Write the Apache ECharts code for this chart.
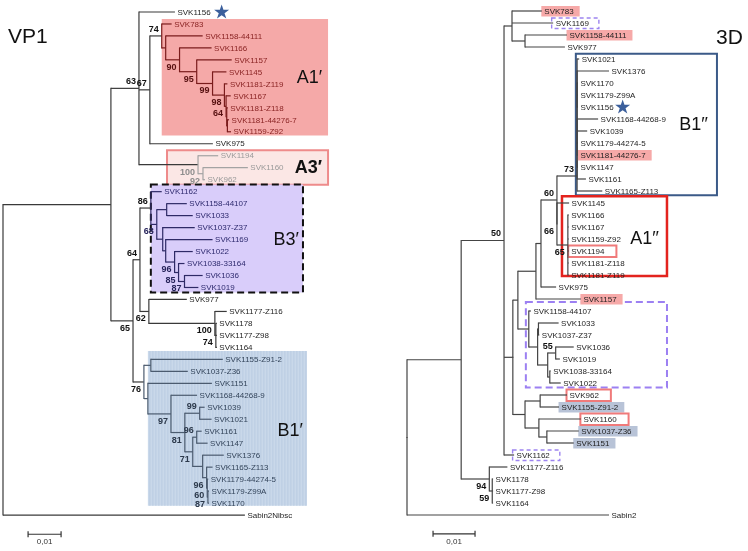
<!DOCTYPE html>
<html><head><meta charset="utf-8">
<script src="https://cdn.jsdelivr.net/npm/echarts@6/dist/echarts.min.js"></script>
<style>html,body{margin:0;padding:0;background:#fff;}#chart{width:748px;height:551px;}</style>
</head><body><div id="chart"></div>
<script>
// ================= DATA =================
// VP1 tree (Newick, branch lengths in substitutions/site, internal labels = bootstrap)
const vp1A1 = "(SVK783:0.0030,(SVK1158-44111:0.0112,(SVK1166:0.0097,(SVK1157:0.0106,(SVK1145:0.0042,(SVK1181-Z119:0.0009,(SVK1167:0.0014,(SVK1181-Z118:0.0003,(SVK1181-44276-7:0.0005,SVK1159-Z92:0.0011):0.0002):0.0002)64:0.0005)98:0.0036)99:0.0048)95:0.0052)90:0.0042):0.0012)74";
const vp1A3 = "(SVK1194:0.0061,(SVK1160:0.0136,SVK962:0.0006)92:0.0015)100";
const vp1B3 = "(SVK1162:0.0033,((SVK1158-44107:0.0061,SVK1033:0.0079):0.0030,(SVK1037-Z37:0.0097,(SVK1169:0.0142,(SVK1022:0.0055,(SVK1038-33164:0.0018,(SVK1036:0.0055,SVK1019:0.0042)87:0.0018)85:0.0012)96:0.0027):0.0009):0.0018)68:0.0018)86";
const vp1Mid = "(SVK977:0.0115,(SVK1177-Z116:0.0036,(SVK1178:0.0003,SVK1177-Z98:0.0003,SVK1164:0.0003)74:0.0003)100:0.0200)62";
const vp1B1 = "((SVK1155-Z91-2:0.0218,SVK1037-Z36:0.0112):0.0021,(SVK1151:0.0194,(SVK1168-44268-9:0.0079,((SVK1039:0.0015,SVK1021:0.0036)99:0.0045,((SVK1161:0.0015,SVK1147:0.0033)96:0.0012,(SVK1376:0.0064,(SVK1165-Z113:0.0018,(SVK1179-44274-5:0.0003,(SVK1179-Z99A:0.0003,SVK1170:0.0003)87:0.0002)60:0.0002)96:0.0012):0.0030)71:0.0024)81:0.0042)97:0.0070):0.0012)76";
const vp1Newick = "(((SVK1156:0.0109,(" + vp1A1 + ":0.0036,SVK975:0.0191)67:0.0033," + vp1A3 + ":0.0179)63:0.0085,((" + vp1B3 + ":0.0033," + vp1Mid + ":0.0027)64:0.0021," + vp1B1 + ":0.0033)65:0.0067):0.0327,Sabin2Nibsc:0.0733);";

// 3D tree
const d3B1 = "((((((SVK1021:0.0005,(SVK1376:0.0076,SVK1170:0.0002,SVK1179-Z99A:0.0002,SVK1156:0.0002,SVK1168-44268-9:0.0050,SVK1039:0.0024,SVK1179-44274-5:0.0002):0):0,SVK1181-44276-7:0.0002):0,SVK1147:0.0002):0,SVK1161:0.0021):0,SVK1165-Z113:0.0060)73";
const d3A1 = "(SVK1145:0.0029,(SVK1166:0.0002,SVK1167:0.0002,SVK1159-Z92:0.0002,SVK1194:0.0002,SVK1181-Z118:0.0002,SVK1181-Z119:0.0002)65:0.0026)66";
const d3B3 = "(SVK1158-44107:0.0005,((SVK1033:0.0048,SVK1037-Z37:0.0002):0.0002,((SVK1036:0.0043,SVK1019:0.0010)55:0.0019,(SVK1038-33164:0.0002,SVK1022:0.0026):0.0005):0.0024):0.0021)";
const d3Lower = "((SVK962:0.0064,SVK1155-Z91-2:0.0045):0.0036,(SVK1160:0.0100,(SVK1037-Z36:0.0076,SVK1151:0.0064):0.0019):0.0033)";
const d3Top = "(SVK783:0.0071,SVK1169:0.0098,(SVK1158-44111:0.0100,SVK977:0.0095):0.0031)";
const d3Mid = "(((((" + d3B1 + ":0.0048," + d3A1 + ":0)60:0.0038,SVK975:0.0036):0.0012,SVK1157:0.0107):0.0043," + d3B3 + ":0.0026):0.0012," + d3Lower + ":0.0029)";
const d3Out = "(SVK1177-Z116:0.0043,(SVK1178:0.0002,SVK1177-Z98:0.0002,SVK1164:0.0002)59:0.0007)94";
const d3Newick = "((((" + d3Top + ":0.0019," + d3Mid + ":0):0.0021,SVK1162:0.0024)50:0.0102," + d3Out + ":0.0067):0.0129,Sabin2:0.0481);";

// clade memberships
const vp1CladeA1 = ['SVK783','SVK1158-44111','SVK1166','SVK1157','SVK1145','SVK1181-Z119','SVK1167','SVK1181-Z118','SVK1181-44276-7','SVK1159-Z92'];
const vp1CladeA3 = ['SVK1194','SVK1160','SVK962'];
const vp1CladeB3 = ['SVK1162','SVK1158-44107','SVK1033','SVK1037-Z37','SVK1169','SVK1022','SVK1038-33164','SVK1036','SVK1019'];
const vp1CladeB1 = ['SVK1155-Z91-2','SVK1037-Z36','SVK1151','SVK1168-44268-9','SVK1039','SVK1021','SVK1161','SVK1147','SVK1376','SVK1165-Z113','SVK1179-44274-5','SVK1179-Z99A','SVK1170'];
const d3CladeB1 = ['SVK1021','SVK1376','SVK1170','SVK1179-Z99A','SVK1156','SVK1168-44268-9','SVK1039','SVK1179-44274-5','SVK1181-44276-7','SVK1147','SVK1161','SVK1165-Z113'];
const d3CladeA1 = ['SVK1145','SVK1166','SVK1167','SVK1159-Z92','SVK1194','SVK1181-Z118','SVK1181-Z119'];
const d3CladeB3 = ['SVK1158-44107','SVK1033','SVK1037-Z37','SVK1036','SVK1019','SVK1038-33164','SVK1022'];
// 3D label highlights (VP1 clade of origin)
const d3PinkLeaves = ['SVK783','SVK1158-44111','SVK1181-44276-7','SVK1157'];
const d3BlueLeaves = ['SVK1155-Z91-2','SVK1037-Z36','SVK1151'];
const d3RedOutlineLeaves = ['SVK1194','SVK962','SVK1160'];
const d3VioletOutlineLeaves = ['SVK1169','SVK1162'];
const starLeaf = 'SVK1156';
const scaleBarLength = 0.01;
const scaleBarLabel = '0,01';

// ================= HELPERS =================
const FONT = '"Liberation Sans", Arial, sans-serif';
const leafFont = '8px ' + FONT;
const bootFont = 'bold 9px ' + FONT;
const STAR = 'M50,2 L61.8,37.6 L99,37.6 L68.9,59.6 L80.4,95 L50,73.2 L19.6,95 L31.1,59.6 L1,37.6 L38.2,37.6 Z';
const mctx = document.createElement('canvas').getContext('2d');
function textWidth(t, f) { mctx.font = f; return mctx.measureText(t).width; }

function parseNewick(s) {
  let i = 0;
  function node() {
    const n = { children: [], name: '', len: 0 };
    if (s[i] === '(') {
      i++;
      n.children.push(node());
      while (s[i] === ',') { i++; n.children.push(node()); }
      i++;
    }
    let t = '';
    while (i < s.length && ',():;'.indexOf(s[i]) < 0) t += s[i++];
    n.name = t;
    if (s[i] === ':') { i++; let v = ''; while (i < s.length && ',();'.indexOf(s[i]) < 0) v += s[i++]; n.len = parseFloat(v) || 0; }
    return n;
  }
  return node();
}
function layoutTree(root) {
  const all = []; let k = 0;
  (function walk(n, px, parent, role) {
    n.x = px + n.len; n.parent = parent; n.role = role;
    all.push(n);
    if (!n.children.length) { n.leaf = true; n.y = k++; n.leafSet = [n.name]; }
    else {
      const m = n.children.length;
      n.children.forEach((c, j) => walk(c, n.x, n, j === m - 1 ? 'last' : 'upper'));
      n.y = (n.children[0].y + n.children[m - 1].y) / 2;
      n.leafSet = n.children.reduce((a, c) => a.concat(c.leafSet), []);
    }
  })(root, 0, null, 'root');
  return all;
}
function cladeIndex(n, clades) {
  for (let c = 0; c < clades.length; c++) {
    if (n.leafSet.every(l => clades[c].leaves.indexOf(l) >= 0)) return c;
  }
  return -1;
}

const vp1Nodes = layoutTree(parseNewick(vp1Newick));
const d3Nodes = layoutTree(parseNewick(d3Newick));

const vp1Clades = [
  { leaves: vp1CladeA1, line: '#7a1c1c', text: '#8a2424', boot: '#561010',
    box: { x0: 0.0481, x1: 0.0985, padTop: 0.42, padBot: 0.32, fill: '#f5a9a8', label: 'A1′', inset: 6 } },
  { leaves: vp1CladeA3, line: '#a3a3a3', text: '#9a9a9a', boot: '#8d8d8d',
    box: { x0: 0.0497, x1: 0.0985, padTop: 0.45, padBot: 0.42, fill: '#fbe7e5', stroke: '#ee8b8b', lw: 2, label: 'A3′', bold: true, inset: 6 } },
  { leaves: vp1CladeB3, line: '#2e2a66', text: '#2e2a6e', boot: '#26235a',
    box: { x0: 0.0448, x1: 0.0909, padTop: 0.6, padBot: 0.42, fill: '#d9cdfa', stroke: '#111111', lw: 2, dash: [7, 4], label: 'B3′', inset: 4 } },
  { leaves: vp1CladeB1, line: '#4b5b6f', text: '#34455b', boot: '#2c394b',
    box: { x0: 0.0439, x1: 0.0921, padTop: 0.7, padBot: 0.22, fill: '#c9d8ea', stripes: '#b9cbe1', label: 'B1′', inset: 4 } }
];
const d3Boxes = [
  { leaves: d3CladeB1, x0: 0.0402, x1: 0.0738, padTop: 0.43, padBot: 0.35, stroke: '#3b5a88', lw: 2, label: 'B1′′', inset: 9 },
  { leaves: d3CladeA1, x0: 0.0369, x1: 0.0619, padTop: 0.56, padBot: 0.08, stroke: '#e3231e', lw: 2.5, label: 'A1′′', inset: 8 },
  { leaves: d3CladeB3, x0: 0.0283, x1: 0.0619, padTop: 0.75, padBot: 0.38, stroke: '#9c80f2', lw: 2, dash: [7, 4] }
];

function treeSeries(nodes, axis, clades, base) {
  return {
    type: 'custom', coordinateSystem: 'cartesian2d', xAxisIndex: axis, yAxisIndex: axis,
    z: 3, silent: true, clip: false,
    data: nodes.map(n => [n.x, n.y]),
    encode: { x: 0, y: 1 },
    renderItem: function (params, api) {
      const n = nodes[params.dataIndex];
      const ci = cladeIndex(n, clades);
      const cl = ci >= 0 ? clades[ci] : null;
      const pci = n.parent ? cladeIndex(n.parent, clades) : -1;
      const p = api.coord([n.x, n.y]);
      const g = [];
      if (n.parent) {
        const q = api.coord([n.parent.x, n.y]);
        g.push({ type: 'line', shape: { x1: q[0], y1: p[1], x2: p[0], y2: p[1] },
          style: { stroke: (cl && pci === ci) ? cl.line : base.line, lineWidth: base.lw } });
      }
      if (!n.leaf) {
        const a = api.coord([n.x, n.children[0].y]);
        const b = api.coord([n.x, n.children[n.children.length - 1].y]);
        g.push({ type: 'line', shape: { x1: a[0], y1: a[1] - 0.5, x2: b[0], y2: b[1] + 0.5 },
          style: { stroke: cl ? cl.line : base.line, lineWidth: base.lw } });
        if (n.name) {
          const inBox = cl && cl.box && (n.x - 0.0012 > cl.box.x0);
          g.push({ type: 'text', x: p[0] - 3, y: p[1] + (n.role === 'last' ? 7.5 : -6.5),
            style: { text: n.name, font: bootFont, fill: inBox ? cl.boot : base.boot,
              textAlign: 'right', textVerticalAlign: 'middle', align: 'right', verticalAlign: 'middle' } });
        }
      } else {
        g.push({ type: 'text', x: p[0] + 2.5, y: p[1] + 0.5,
          style: { text: n.name, font: leafFont, fill: cl ? cl.text : base.text,
            textAlign: 'left', textVerticalAlign: 'middle', align: 'left', verticalAlign: 'middle' } });
        if (n.name === starLeaf) {
          const w = textWidth(n.name, leafFont);
          g.push({ type: 'path', shape: { pathData: STAR, x: p[0] + 2.5 + w + base.starGap, y: p[1] - 7.5, width: 15, height: 14, layout: 'cover' },
            style: { fill: '#3b5f9c', stroke: null } });
        }
      }
      return { type: 'group', children: g };
    }
  };
}

function boxSeries(nodes, axis, boxes) {
  const idx = {}; nodes.forEach(n => { if (n.leaf) idx[n.name] = n.y; });
  return {
    type: 'custom', coordinateSystem: 'cartesian2d', xAxisIndex: axis, yAxisIndex: axis,
    z: 1, silent: true, clip: false,
    data: boxes.map(b => [b.x0, idx[b.leaves[0]]]),
    encode: { x: 0, y: 1 },
    renderItem: function (params, api) {
      const b = boxes[params.dataIndex];
      const i0 = idx[b.leaves[0]] - b.padTop, i1 = idx[b.leaves[b.leaves.length - 1]] + b.padBot;
      const p0 = api.coord([b.x0, i0]), p1 = api.coord([b.x1, i1]);
      const g = [{ type: 'rect', shape: { x: p0[0], y: p0[1], width: p1[0] - p0[0], height: p1[1] - p0[1] },
        style: { fill: b.fill || 'transparent', stroke: b.stroke || null, lineWidth: b.lw || 0, lineDash: b.dash || null } }];
      if (b.stripes) {
        for (let x = p0[0] + 2; x < p1[0] - 1; x += 3) {
          g.push({ type: 'line', shape: { x1: x, y1: p0[1], x2: x, y2: p1[1] }, style: { stroke: b.stripes, lineWidth: 1 } });
        }
      }
      if (b.label) {
        const mean = b.leaves.reduce((s, l) => s + idx[l], 0) / b.leaves.length;
        const m = api.coord([b.x1, mean]);
        g.push({ type: 'text', x: p1[0] - b.inset, y: m[1],
          style: { text: b.label, font: (b.bold ? 'bold ' : '') + '18px ' + FONT, fill: '#111',
            textAlign: 'right', textVerticalAlign: 'middle', align: 'right', verticalAlign: 'middle' } });
      }
      return { type: 'group', children: g };
    }
  };
}

function highlightSeries(nodes, axis, marks) {
  const byName = {}; nodes.forEach(n => { if (n.leaf) byName[n.name] = n; });
  return {
    type: 'custom', coordinateSystem: 'cartesian2d', xAxisIndex: axis, yAxisIndex: axis,
    z: 2, silent: true, clip: false,
    data: marks.map(m => [byName[m.name].x, byName[m.name].y]),
    encode: { x: 0, y: 1 },
    renderItem: function (params, api) {
      const m = marks[params.dataIndex];
      const n = byName[m.name];
      const p = api.coord([n.x, n.y]);
      const s = p[0] + 2.5, w = textWidth(n.name, leafFont);
      let shape, style;
      if (m.kind === 'pink' || m.kind === 'blue') {
        shape = { x: s - 3, y: p[1] - 5, width: w + 9, height: 10.5 };
        style = { fill: m.kind === 'pink' ? '#f6a9a8' : '#b8c3d7', stroke: null };
      } else if (m.kind === 'red') {
        shape = { x: s - 3, y: p[1] - 5.5, width: w + 15, height: 11.5 };
        style = { fill: 'transparent', stroke: '#f07a7a', lineWidth: 2 };
      } else {
        shape = { x: s - 4, y: p[1] - 5, width: w + 14, height: 10.5 };
        style = { fill: 'transparent', stroke: '#9d84f0', lineWidth: 1.4, lineDash: [4, 3] };
      }
      return { type: 'rect', shape: shape, style: style };
    }
  };
}

function scaleSeries(axis, start, yIdx) {
  return {
    type: 'custom', coordinateSystem: 'cartesian2d', xAxisIndex: axis, yAxisIndex: axis,
    z: 3, silent: true, clip: false,
    data: [[start, yIdx]], encode: { x: 0, y: 1 },
    renderItem: function (params, api) {
      const a = api.coord([api.value(0), api.value(1)]);
      const b = api.coord([api.value(0) + scaleBarLength, api.value(1)]);
      const st = { stroke: '#333', lineWidth: 1.2 };
      return { type: 'group', children: [
        { type: 'line', shape: { x1: a[0], y1: a[1], x2: b[0], y2: b[1] }, style: st },
        { type: 'line', shape: { x1: a[0], y1: a[1] - 3, x2: a[0], y2: a[1] + 3 }, style: st },
        { type: 'line', shape: { x1: b[0], y1: b[1] - 3, x2: b[0], y2: b[1] + 3 }, style: st },
        { type: 'text', x: (a[0] + b[0]) / 2, y: a[1] + 7.5,
          style: { text: scaleBarLabel, font: leafFont, fill: '#333', textAlign: 'center', textVerticalAlign: 'middle', align: 'center', verticalAlign: 'middle' } }
      ] };
    }
  };
}

const vp1BoxList = vp1Clades.map(c => Object.assign({ leaves: c.leaves }, c.box));
const d3Marks = [].concat(
  d3PinkLeaves.map(n => ({ name: n, kind: 'pink' })),
  d3BlueLeaves.map(n => ({ name: n, kind: 'blue' })),
  d3RedOutlineLeaves.map(n => ({ name: n, kind: 'red' })),
  d3VioletOutlineLeaves.map(n => ({ name: n, kind: 'violet' }))
);

const hiddenAxis = { show: false, splitLine: { show: false }, axisLine: { show: false }, axisTick: { show: false }, axisLabel: { show: false } };

const chart = echarts.init(document.getElementById('chart'), null, { renderer: 'canvas' });
chart.setOption({
  animation: false,
  backgroundColor: '#ffffff',
  grid: [
    { left: 3, top: 12, width: 330, height: 12.02 * 45 },
    { left: 407, top: 11, width: 336, height: 12.05 * 45 }
  ],
  xAxis: [
    Object.assign({ type: 'value', gridIndex: 0, min: 0, max: 0.1 }, hiddenAxis),
    Object.assign({ type: 'value', gridIndex: 1, min: 0, max: 0.08 }, hiddenAxis)
  ],
  yAxis: [
    Object.assign({ type: 'value', gridIndex: 0, min: 0, max: 45, inverse: true }, hiddenAxis),
    Object.assign({ type: 'value', gridIndex: 1, min: 0, max: 45, inverse: true }, hiddenAxis)
  ],
  graphic: [
    { type: 'text', left: 8, top: 27, style: { text: 'VP1', font: '21px ' + FONT, fill: '#111' } },
    { type: 'text', left: 716, top: 28, style: { text: '3D', font: '21px ' + FONT, fill: '#111' } }
  ],
  series: [
    boxSeries(vp1Nodes, 0, vp1BoxList),
    treeSeries(vp1Nodes, 0, vp1Clades, { line: '#3a3a3a', text: '#1e1e1e', boot: '#111', lw: 1.2, starGap: 3.5 }),
    scaleSeries(0, 0.0076, 43.6),
    boxSeries(d3Nodes, 1, d3Boxes),
    highlightSeries(d3Nodes, 1, d3Marks),
    treeSeries(d3Nodes, 1, [], { line: '#444', text: '#1e1e1e', boot: '#111', lw: 1.2, starGap: 1.5 }),
    scaleSeries(1, 0.0062, 43.57)
  ]
});
</script></body></html>
